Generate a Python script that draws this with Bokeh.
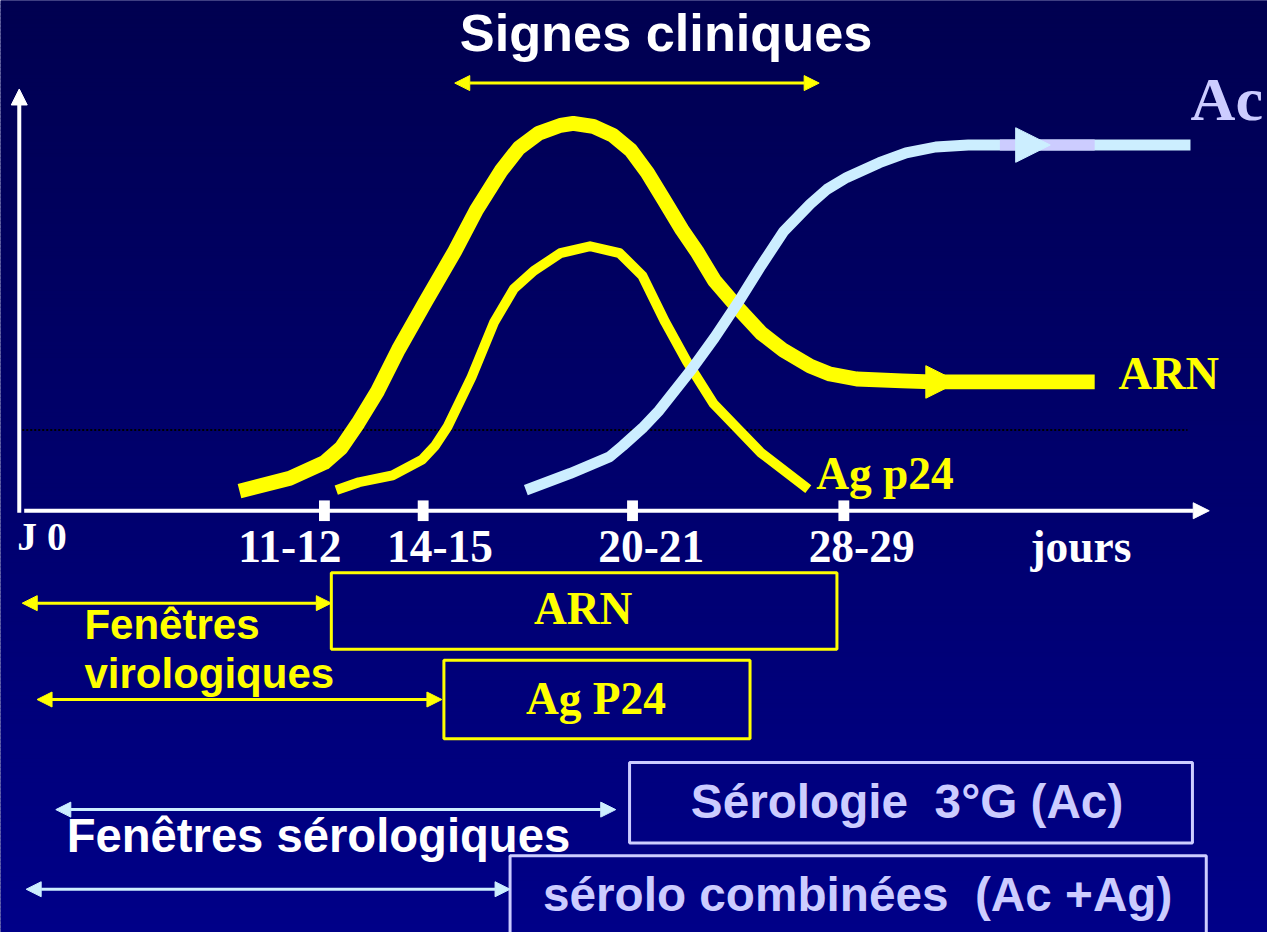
import numpy as np
from bokeh.plotting import figure
from bokeh.models import Range1d, ColumnDataSource, Arrow, NormalHead
from bokeh.core.properties import value
from bokeh.embed import file_html
from bokeh.resources import INLINE

# ---------------- values ----------------
# schematic kinetics curves (picture units)
arn_x = [242, 293, 328, 345, 362, 382, 403, 430, 460, 482, 507, 525, 545, 567, 580, 600,
         620, 638, 655, 672, 690, 705, 723, 747, 770, 793, 820, 840, 867, 913, 943, 1108]
arn_y = [499, 486, 470, 455, 430, 397, 355, 307, 255, 213, 173, 150, 135, 127, 125, 128,
         137, 152, 175, 203, 233, 255, 285, 313, 338, 356, 372, 380, 385, 387, 388, 388]
p24_x = [340, 363, 397, 427, 440, 453, 477, 500, 520, 540, 567, 597, 627, 650, 673, 695,
         722, 744, 770, 818]
p24_y = [498, 490, 483, 467, 453, 433, 383, 327, 293, 275, 257, 250, 257, 280, 327, 367,
         410, 433, 460, 497]
ac_x = [532, 577, 617, 630, 650, 667, 700, 723, 747, 770, 793, 820, 837, 857, 890, 917,
        947, 980, 1012, 1205]
ac_y = [498, 481, 464, 453, 435, 417, 375, 343, 307, 270, 235, 207, 192, 180, 165, 155,
        149, 147, 147, 147]
ac_band_x = [1012, 1108]
threshold_y = 437
threshold_x = [22, 1202]

tick_x = [328, 428, 640, 854]
tick_labels = ["11-12", "14-15", "20-21", "28-29"]
tick_label_x = [293, 445, 659, 872]

viro_labels = ["ARN", "Ag P24"]
sero_labels = ["Sérologie \u00a03°G (Ac)", "sérolo combinées \u00a0(Ac +Ag)"]

# ---------------- layout / style ----------------
YELLOW = "#ffff00"
LAV = "#ccccff"
LBLUE = "#cceeff"
SERIF = value("Liberation Serif")
SANS = value("Liberation Sans")
W, H = 1267, 932
K = W / 1283.0
axis_y = 519

p = figure(width=W, height=H, x_range=Range1d(0, 1283), y_range=Range1d(948, 0),
           x_axis_location=None, y_axis_location=None, toolbar_location=None,
           output_backend="svg", min_border=0, outline_line_color=None,
           background_fill_color="#00006a", border_fill_color="#00006a")
p.grid.visible = False

# background gradient (dark navy -> blue)
edges = np.linspace(0, 948, 238)
mids = (edges[:-1] + edges[1:]) / 2
cols = ["#0000%02x" % int(round(80 + 56 * m / 948)) for m in mids]
p.quad(left=0, right=1283, top=edges[:-1] - 0.7, bottom=edges[1:] + 0.7,
       fill_color=cols, line_color=None)

# threshold dotted line
p.line(threshold_x, [threshold_y, threshold_y], line_color="black", line_width=2,
       line_dash="2 2")

# curves
p.line(arn_x, arn_y, line_color=YELLOW, line_width=15 * K, line_join="round", line_cap="butt")
p.line(p24_x, p24_y, line_color=YELLOW, line_width=10 * K, line_join="round", line_cap="butt")
p.line(ac_x, ac_y, line_color=LBLUE, line_width=11 * K, line_join="round", line_cap="butt")
p.line(ac_band_x, [ac_y[-1], ac_y[-1]], line_color=LAV, line_width=11 * K, line_cap="butt")

# mid-curve arrow heads
p.add_layout(Arrow(x_start=arn_x[-2], y_start=arn_y[-2], x_end=arn_x[-2] + 27, y_end=arn_y[-2],
                   line_alpha=0, end=NormalHead(size=33 * K, fill_color=YELLOW, line_color=YELLOW)))
p.add_layout(Arrow(x_start=ac_band_x[0] + 17, y_start=ac_y[-1], x_end=ac_band_x[0] + 51,
                   y_end=ac_y[-1], line_alpha=0,
                   end=NormalHead(size=35 * K, fill_color=LBLUE, line_color=LBLUE)))

# axes
axis_src = ColumnDataSource(dict(x0=[19, 24], y0=[axis_y + 2, axis_y], x1=[19, 1224], y1=[90, axis_y]))
p.add_layout(Arrow(source=axis_src, x_start="x0", y_start="y0", x_end="x1", y_end="y1",
                   line_color="white", line_width=4,
                   end=NormalHead(size=16, fill_color="white", line_color="white")))
p.rect(x=tick_x, y=[axis_y] * len(tick_x), width=11, height=21,
       fill_color="white", line_color=None)

# double arrows
def dbl(x0, x1, y, color, width):
    src = ColumnDataSource(dict(x0=x0, x1=x1, y=y))
    p.add_layout(Arrow(source=src, x_start="x0", y_start="y", x_end="x1", y_end="y",
                       line_color=color, line_width=width,
                       start=NormalHead(size=15, fill_color=color, line_color=color),
                       end=NormalHead(size=15, fill_color=color, line_color=color)))

dbl([460, 22, 37], [829, 335, 447], [84, 613, 711], YELLOW, 3)
dbl([56, 26], [623, 516], [823, 904], LBLUE, 3)

# boxes
p.quad(left=[335, 449], right=[847, 759], top=[582, 671], bottom=[660, 751],
       fill_alpha=0, line_color=YELLOW, line_width=3)
p.quad(left=[637, 516], right=[1207, 1221], top=[775, 870], bottom=[857, 962],
       fill_alpha=0, line_color=LAV, line_width=3)

# texts (y given as baseline in picture units)
def txt(x, y, t, font, size, color, align="left"):
    yy = [v - 0.36 * size for v in y]
    p.text(x=x, y=yy, text=t, text_font=font, text_font_style="bold",
           text_font_size=value("%.1fpx" % (size * K)), text_color=color, text_align=align,
           text_baseline="alphabetic")

txt([674], [52], ["Signes cliniques"], SANS, 53, "white", "center")
txt([1205], [123], ["Ac"], SERIF, 63, LAV)
txt([1132], [396], ["ARN"], SERIF, 47, YELLOW)
txt([826], [498], ["Ag p24"], SERIF, 46, YELLOW)
txt([17], [560], ["J 0"], SERIF, 40, "white")
txt(tick_label_x, [572] * 4, tick_labels, SERIF, 46, "white", "center")
txt([1043], [572], ["jours"], SERIF, 46, "white")
txt([590, 603], [635, 727], viro_labels, SERIF, 46, YELLOW, "center")
txt([85, 85], [650, 700], ["Fenêtres", "virologiques"], SANS, 42.5, YELLOW)
txt([918, 868], [832, 927], sero_labels, SANS, 48.3, LAV, "center")
txt([67], [867], ["Fenêtres sérologiques"], SANS, 47.8, "white")

open("out.html", "w").write(file_html(p, INLINE))
